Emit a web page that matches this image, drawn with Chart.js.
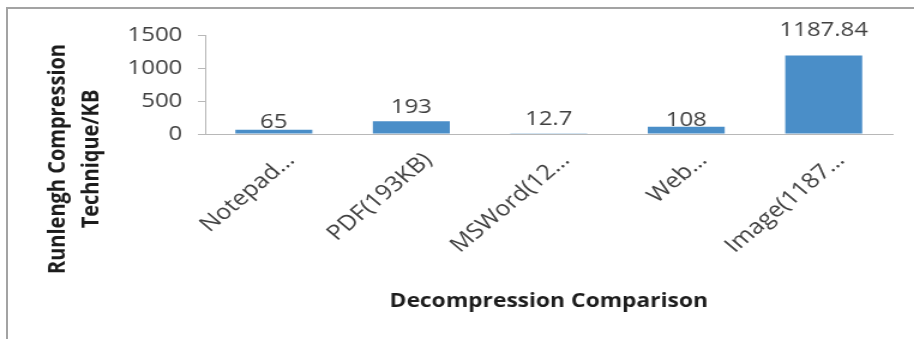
<!DOCTYPE html>
<html>
<head>
<meta charset="utf-8">
<title>Decompression Comparison</title>
<script src="https://cdn.jsdelivr.net/npm/chart.js@4/dist/chart.umd.min.js"></script>
<style>
  html, body { margin: 0; padding: 0; background: #ffffff; }
  #wrap { position: relative; width: 914px; height: 339px; overflow: hidden; }
  #frame {
    position: absolute; left: 6px; top: 7px; right: -10px; bottom: -10px;
    border-left: 2px solid #a3a3a3; border-top: 2px solid #a3a3a3;
  }
  /* the chart is laid out a little narrower and widened to the full box */
  #stretch { position: absolute; left: 0; top: 0; transform-origin: 0 0; transform: scaleX(1.1995); }
</style>
</head>
<body>
<div id="wrap">
  <div id="frame"></div>
  <div id="stretch"><canvas id="chart" width="762" height="339"></canvas></div>
</div>
<script>
// File types and their run-length decompression sizes (KB)
const categories = ['Notepad\u2026', 'PDF(193KB)', 'MSWord(12\u2026', 'Web\u2026', 'Image(1187\u2026'];
const sizesKB = [65, 193, 12.7, 108, 1187.84];
const valueLabels = ['65', '193', '12.7', '108', '1187.84'];
const yTicks = [0, 500, 1000, 1500];
const yTitleLines = ['Runlengh Compression', 'Technique/KB'];
const xTitle = 'Decompression Comparison';

const FONT = "'Open Sans', 'Liberation Sans', sans-serif";
const BAR_BLUE = '#4a8ec8';
const AXIS_GREY = '#b8b8b8';

// Value printed above each bar; `lift` is the gap (px) between bar top and text baseline
const barValueLabels = {
  id: 'barValueLabels',
  afterDatasetsDraw(chart, args, opts) {
    const { ctx } = chart;
    const meta = chart.getDatasetMeta(0);
    ctx.save();
    ctx.font = '20px ' + FONT;
    ctx.fillStyle = '#404040';
    ctx.textAlign = 'center';
    ctx.textBaseline = 'alphabetic';
    meta.data.forEach((bar, i) => {
      ctx.fillText(valueLabels[i], bar.x, bar.y - opts.lift[i]);
    });
    ctx.restore();
  }
};

// Two-line vertical title to the left of the value axis
const sideTitle = {
  id: 'sideTitle',
  afterDraw(chart, args, opts) {
    const { ctx } = chart;
    ctx.save();
    ctx.font = 'bold 20px ' + FONT;
    ctx.fillStyle = '#1c1c1c';
    ctx.textAlign = 'center';
    ctx.textBaseline = 'middle';
    yTitleLines.forEach((line, i) => {
      ctx.save();
      ctx.translate(opts.x[i], opts.y);
      ctx.rotate(-Math.PI / 2);
      ctx.fillText(line, 0, 0);
      ctx.restore();
    });
    ctx.restore();
  }
};

new Chart(document.getElementById('chart'), {
  type: 'bar',
  data: {
    labels: categories,
    datasets: [{
      data: sizesKB,
      backgroundColor: BAR_BLUE,
      borderWidth: 0,
      barPercentage: 0.56,
      categoryPercentage: 1.0
    }]
  },
  options: {
    responsive: false,
    animation: false,
    devicePixelRatio: 1,
    layout: { padding: { top: 35, right: 18, bottom: 0, left: 0 } },
    plugins: {
      legend: { display: false },
      tooltip: { enabled: false },
      barValueLabels: { lift: [2, 8, 8, 1, 20] },
      sideTitle: { x: [48, 76], y: 159 }
    },
    scales: {
      x: {
        grid: { display: true, drawOnChartArea: false, drawTicks: false, color: 'rgba(0,0,0,0)' },
        border: { display: true, color: AXIS_GREY, width: 1 },
        ticks: {
          font: { family: FONT, size: 21 },
          color: '#404040',
          minRotation: 45,
          maxRotation: 45,
          padding: 14,
          labelOffset: 14,
          autoSkip: false
        },
        title: {
          display: true,
          text: xTitle,
          font: { family: FONT, size: 19, weight: 'bold' },
          color: '#1c1c1c',
          padding: { top: 0, bottom: 26 }
        },
        afterFit(scale) { scale.height = 205; scale.paddingLeft = 0; scale.paddingRight = 0; }
      },
      y: {
        min: 0,
        max: 1500,
        grid: { display: true, drawOnChartArea: false, drawTicks: true, tickLength: 6, color: AXIS_GREY },
        border: { display: true, color: AXIS_GREY, width: 1 },
        ticks: {
          font: { family: FONT, size: 20 },
          color: '#404040',
          padding: 13,
          callback: (value) => String(value)
        },
        afterBuildTicks(scale) { scale.ticks = yTicks.map(v => ({ value: v })); },
        afterFit(scale) { scale.width = 171; }
      }
    }
  },
  plugins: [barValueLabels, sideTitle]
});
</script>
</body>
</html>
